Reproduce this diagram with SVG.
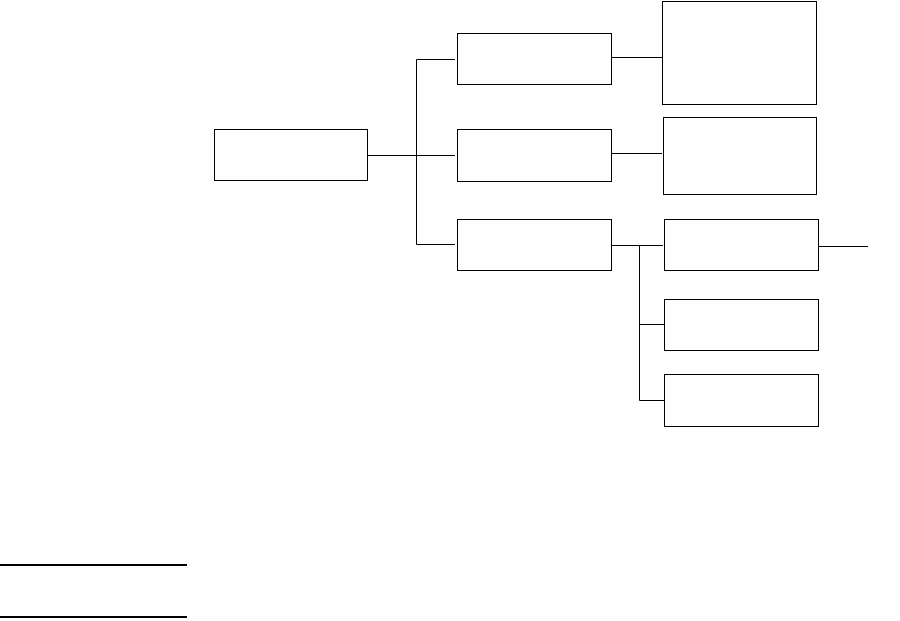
<svg xmlns="http://www.w3.org/2000/svg" width="900" height="621" viewBox="0 0 900 621">
<style>
.box{fill:#fff;stroke:#000;stroke-width:1}
.ln{fill:none;stroke:#000;stroke-width:1}
.rule{stroke:#000;stroke-width:2}
</style>
<rect width="900" height="621" fill="#fff"/>
<g id="connectors">
<path class="ln" d="M367.5 155.5 H455 M416.5 59.5 V244.5 M416.5 59.5 H455 M416.5 244.5 H455"/>
<path class="ln" d="M611.5 57.5 H662"/>
<path class="ln" d="M611.5 153.5 H662"/>
<path class="ln" d="M611.5 245.5 H663 M639.5 245.5 V400.5 M639.5 324.5 H664 M639.5 400.5 H664"/>
<path class="ln" d="M817 246.5 H868"/>
</g>
<g id="root"><rect class="box" x="214.5" y="129.5" width="153" height="51"/></g>
<g id="nodeA"><rect class="box" x="457.5" y="33.5" width="154" height="51"/></g>
<g id="nodeB"><rect class="box" x="457.5" y="129.5" width="154" height="52"/></g>
<g id="nodeC"><rect class="box" x="457.5" y="219.5" width="154" height="51"/></g>
<g id="nodeD"><rect class="box" x="662.5" y="1.5" width="154" height="103"/></g>
<g id="nodeE"><rect class="box" x="663.5" y="117.5" width="153" height="77"/></g>
<g id="nodeF"><rect class="box" x="664.5" y="219.5" width="154" height="51"/></g>
<g id="nodeG"><rect class="box" x="664.5" y="299.5" width="154" height="51"/></g>
<g id="nodeH"><rect class="box" x="664.5" y="374.5" width="154" height="52"/></g>
<line class="rule" x1="0" y1="565" x2="187" y2="565"/>
<line class="rule" x1="0" y1="617" x2="187" y2="617"/>
</svg>
